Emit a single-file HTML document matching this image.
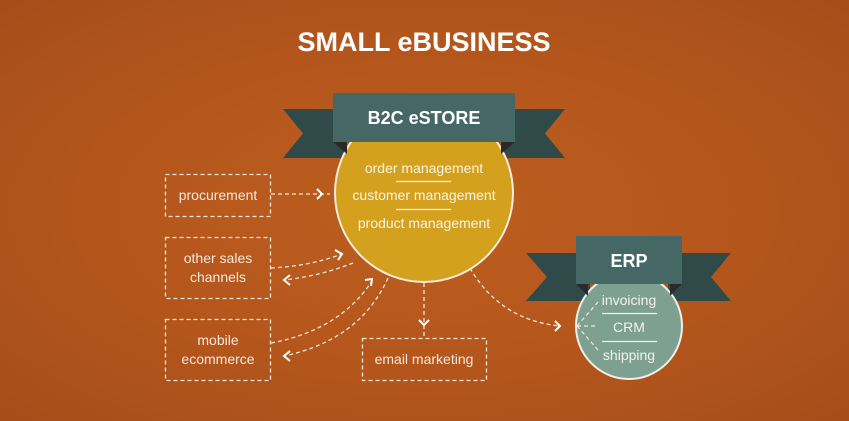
<!DOCTYPE html>
<html><head><meta charset="utf-8"><style>
html,body{margin:0;padding:0}
body{width:849px;height:421px;overflow:hidden;background:radial-gradient(ellipse at 50% 50%,#bd5e1f 0%,#b4561c 55%,#a54e1a 100%);font-family:"Liberation Sans",sans-serif}
svg{display:block}
</style></head><body>
<svg width="849" height="421" viewBox="0 0 849 421" xmlns="http://www.w3.org/2000/svg">
<text x="424" y="51" text-anchor="middle" font-family="Liberation Sans, sans-serif" font-weight="bold" font-size="27" fill="#fff">SMALL eBUSINESS</text>
<g fill="none" stroke="#f3e6da" stroke-width="1.3" stroke-dasharray="4,3">
<rect x="165.5" y="174.5" width="105" height="42"/>
<rect x="165.5" y="237.5" width="105" height="61"/>
<rect x="165.5" y="319.5" width="105" height="61"/>
<rect x="362.5" y="338.5" width="124" height="42"/>
<path d="M271 194 H330"/>
<path d="M271 268 Q310 266 342 254"/>
<path d="M353 263 Q320 276 284 280"/>
<path d="M271 343 Q340 330 372 281"/>
<path d="M388 278 Q360 340 284 356"/>
<path d="M424 283 V338"/>
<path d="M470 268 Q500 320 560 326"/>
<path d="M577 326 L598 302 M577 326 H598 M577 326 L598 350" stroke-width="1"/>
</g>
<g fill="none" stroke="#fff" stroke-width="2">
<path d="M317 189 L322 194 L317 199"/>
<path d="M335 250 L342 254 L338 260"/>
<path d="M290 275 L284 280 L290 285"/>
<path d="M365 280 L372 279 L371 286"/>
<path d="M290 351 L284 356 L290 361"/>
<path d="M419 320 L424 325 L429 320"/>
<path d="M555 321 L560 326 L555 331"/>
</g>
<!-- main banner tails -->
<polygon points="283,109 345,109 345,158 283,158 303,133.5" fill="#304a4a"/>
<polygon points="565,109 503,109 503,158 565,158 545,133.5" fill="#304a4a"/>
<circle cx="424" cy="193" r="89" fill="#d4a11f" stroke="#f4ece0" stroke-width="2"/>
<polygon points="333,142 347,142 347,154" fill="#2a2a2a"/>
<polygon points="515,142 501,142 501,154" fill="#2a2a2a"/>
<rect x="333" y="93" width="182" height="49" fill="#456867"/>
<text x="424" y="124" text-anchor="middle" font-weight="bold" font-size="18" fill="#fff">B2C eSTORE</text>
<g font-size="14" fill="#fbf3e2" text-anchor="middle">
<text x="424" y="173">order management</text>
<text x="424" y="200">customer management</text>
<text x="424" y="228">product management</text>
</g>
<g stroke="#fbf3e2" stroke-width="1.2"><path d="M396 181.5 H451 M396 209.5 H451"/></g>
<!-- ERP -->
<polygon points="526,253 590,253 590,301 526,301 547,277" fill="#304a4a"/>
<polygon points="731,253 668,253 668,301 731,301 711,277" fill="#304a4a"/>
<circle cx="629" cy="326" r="53" fill="#7da090" stroke="#eef0ea" stroke-width="2"/>
<polygon points="576,284 588,284 588,296" fill="#2a2a2a"/>
<polygon points="682,284 670,284 670,296" fill="#2a2a2a"/>
<rect x="576" y="236" width="106" height="48" fill="#456867"/>
<text x="629" y="267" text-anchor="middle" font-weight="bold" font-size="18" fill="#fff">ERP</text>
<g fill="none" stroke="#f3e6da" stroke-width="1.2" stroke-dasharray="4,3"><path d="M577 326 L598 302 M577 326 H598 M577 326 L598 350"/></g>
<g font-size="14" fill="#f3f3ee" text-anchor="middle">
<text x="629" y="305">invoicing</text>
<text x="629" y="332">CRM</text>
<text x="629" y="360">shipping</text>
</g>
<g stroke="#f3f3ee" stroke-width="1.2"><path d="M602 313.5 H657 M602 341.5 H657"/></g>
<g font-size="14" fill="#f6e8dc" text-anchor="middle">
<text x="218" y="200">procurement</text>
<text x="218" y="263">other sales</text>
<text x="218" y="282">channels</text>
<text x="218" y="345">mobile</text>
<text x="218" y="364">ecommerce</text>
<text x="424" y="364">email marketing</text>
</g>
</svg>
</body></html>
